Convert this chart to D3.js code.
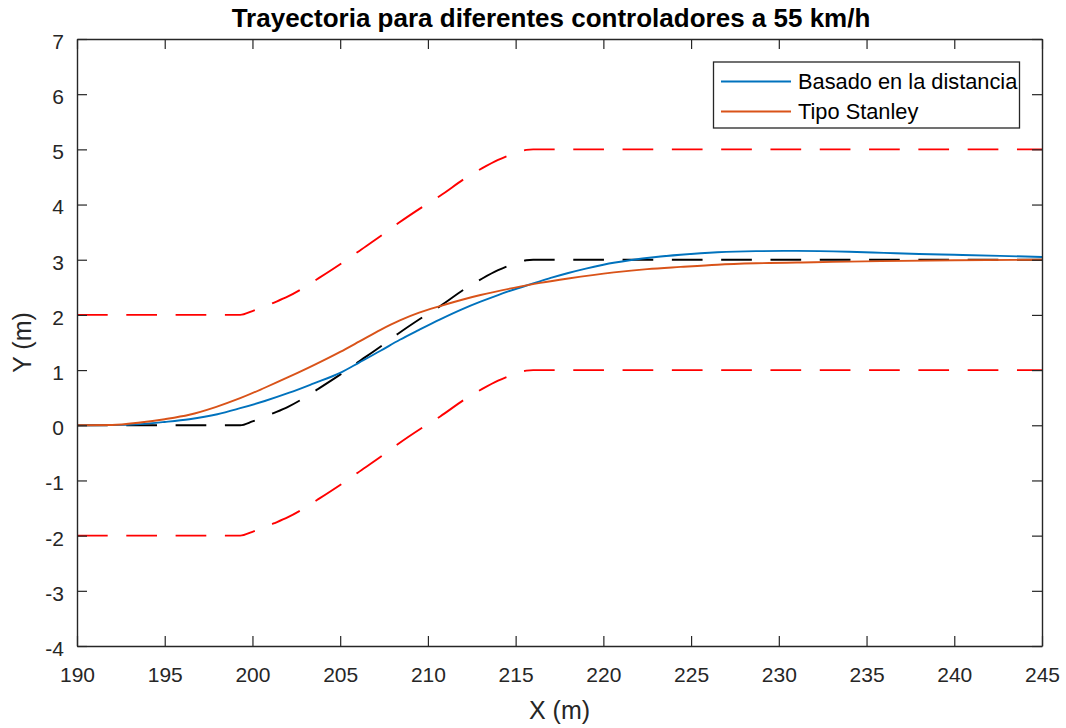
<!DOCTYPE html>
<html>
<head>
<meta charset="utf-8">
<script src="https://cdn.jsdelivr.net/npm/d3@7"></script>
<style>
  body { margin: 0; background: #fff; }
  svg { font-family: "Liberation Sans", Arial, Helvetica, sans-serif; }
</style>
</head>
<body>
<div id="chart"></div>
<script>
// reference path (black dashed) and lane limits (red dashed)
const refX = [190, 199.3, 200, 200.5, 201.2, 202, 202.7, 203.7, 205.1, 206, 207.4, 208.3, 209.7, 210.7, 212.1, 213.1, 214, 214.6, 215.1, 215.6, 216, 245];
const refY = [0, 0, 0.07, 0.13, 0.22, 0.33, 0.45, 0.65, 0.94, 1.14, 1.45, 1.66, 1.96, 2.16, 2.47, 2.66, 2.81, 2.89, 2.95, 2.99, 3, 3];
const upperY = [2, 2, 2.07, 2.13, 2.22, 2.33, 2.45, 2.65, 2.94, 3.14, 3.45, 3.66, 3.96, 4.16, 4.47, 4.66, 4.81, 4.89, 4.95, 4.99, 5, 5];
const lowerY = [-2, -2, -1.93, -1.87, -1.78, -1.67, -1.55, -1.35, -1.06, -0.86, -0.55, -0.34, -0.04, 0.16, 0.47, 0.66, 0.81, 0.89, 0.95, 0.99, 1, 1];

// controller "Basado en la distancia"
const distX = [190, 192, 193.6, 195, 196.4, 198, 199.3, 200.7, 202.1, 203.5, 205, 206.1, 207.3, 208.4, 209.5, 210.7, 212, 213, 214, 215, 216, 217, 218, 219, 220, 221.5, 223, 224.4, 226.5, 228.7, 231, 234, 236, 238, 240, 242.6, 245];
const distY = [0, 0.003, 0.02, 0.06, 0.11, 0.2, 0.31, 0.44, 0.59, 0.76, 0.95, 1.14, 1.35, 1.55, 1.73, 1.92, 2.11, 2.24, 2.36, 2.47, 2.57, 2.67, 2.76, 2.84, 2.91, 2.99, 3.05, 3.09, 3.135, 3.155, 3.16, 3.145, 3.125, 3.105, 3.09, 3.07, 3.05];

// controller "Tipo Stanley"
const stanX = [190, 192, 193.6, 195, 196.4, 197.9, 199.3, 200.7, 202.1, 203.5, 205, 206.1, 207.3, 208.4, 209.5, 210.7, 212, 213, 214.9, 216.4, 218, 220.6, 222.5, 224.4, 226.5, 228.7, 232, 235.8, 240, 245];
const stanY = [0, 0.005, 0.05, 0.11, 0.19, 0.33, 0.49, 0.68, 0.88, 1.09, 1.33, 1.52, 1.73, 1.9, 2.04, 2.16, 2.28, 2.36, 2.49, 2.58, 2.66, 2.77, 2.83, 2.87, 2.91, 2.935, 2.955, 2.975, 2.99, 3.0];

const xTicks = [190, 195, 200, 205, 210, 215, 220, 225, 230, 235, 240, 245];
const yTicks = [-4, -3, -2, -1, 0, 1, 2, 3, 4, 5, 6, 7];

const legendNames = ['Basado en la distancia', 'Tipo Stanley'];
const legendColors = ['#0072BD', '#D95319'];

const W = 1066, H = 728;
const mLeft = 77, mRight = 1042, mTop = 39, mBottom = 646;
const axisColor = '#262626';

const svg = d3.select('#chart').append('svg').attr('width', W).attr('height', H);

const x = d3.scaleLinear().domain([190, 245]).range([mLeft, mRight]);
const y = d3.scaleLinear().domain([-4, 7]).range([mBottom, mTop]);

const line = d3.line().x(d => x(d[0])).y(d => y(d[1])).curve(d3.curveMonotoneX);

/* Series
=========================================================================*/
const zip = (xs, ys) => xs.map((v, i) => [v, ys[i]]);
const g = svg.append('g');

const series = [
  { pts: zip(refX, upperY), color: '#FF0000', dash: '30.7,18.6' },
  { pts: zip(refX, lowerY), color: '#FF0000', dash: '30.7,18.6' },
  { pts: zip(refX, refY), color: '#000000', dash: '30.7,18.6' },
  { pts: zip(distX, distY), color: legendColors[0], dash: null },
  { pts: zip(stanX, stanY), color: legendColors[1], dash: null }
];

series.forEach(s => {
  g.append('path')
    .datum(s.pts)
    .attr('d', line)
    .attr('fill', 'none')
    .attr('stroke', s.color)
    .attr('stroke-width', 1.9)
    .attr('stroke-dasharray', s.dash);
});

/* Axes
=========================================================================*/
const fmt = d => String(d);

const styleAxis = sel => {
  sel.attr('font-family', null).attr('font-size', null);
  sel.selectAll('path').attr('stroke', axisColor).attr('stroke-width', 1.4);
  sel.selectAll('line').attr('stroke', axisColor).attr('stroke-width', 1.2);
  sel.selectAll('text').attr('fill', axisColor).style('font-size', '21px');
};

svg.append('g')
  .attr('transform', `translate(0,${mBottom})`)
  .call(d3.axisBottom(x).tickValues(xTicks).tickFormat(fmt).tickSizeInner(-10).tickSizeOuter(0).tickPadding(21))
  .call(styleAxis);

svg.append('g')
  .attr('transform', `translate(0,${mTop})`)
  .call(d3.axisTop(x).tickValues(xTicks).tickFormat('').tickSizeInner(-10).tickSizeOuter(0))
  .call(styleAxis);

svg.append('g')
  .attr('transform', `translate(${mLeft},0)`)
  .call(d3.axisLeft(y).tickValues(yTicks).tickFormat(fmt).tickSizeInner(-10).tickSizeOuter(0).tickPadding(13))
  .call(styleAxis)
  .call(a => a.selectAll('text').attr('dy', '0.45em'));

svg.append('g')
  .attr('transform', `translate(${mRight},0)`)
  .call(d3.axisRight(y).tickValues(yTicks).tickFormat('').tickSizeInner(-10).tickSizeOuter(0))
  .call(styleAxis);

/* Labels
=========================================================================*/
svg.append('text')
  .attr('x', 551)
  .attr('y', 27)
  .attr('text-anchor', 'middle')
  .attr('font-weight', 'bold')
  .style('font-size', '26px')
  .attr('fill', '#000')
  .text('Trayectoria para diferentes controladores a 55 km/h');

svg.append('text')
  .attr('x', (mLeft + mRight) / 2)
  .attr('y', 719)
  .attr('text-anchor', 'middle')
  .style('font-size', '25px')
  .attr('fill', axisColor)
  .text('X (m)');

svg.append('text')
  .attr('transform', `translate(31,${(mTop + mBottom) / 2}) rotate(-90)`)
  .attr('text-anchor', 'middle')
  .style('font-size', '25px')
  .attr('fill', axisColor)
  .text('Y (m)');

/* Legend
=========================================================================*/
const legend = svg.append('g');
legend.append('rect')
  .attr('x', 713.5).attr('y', 62)
  .attr('width', 306).attr('height', 66)
  .attr('fill', '#fff')
  .attr('stroke', axisColor)
  .attr('stroke-width', 1.3);

legendNames.forEach((name, i) => {
  const cy = 81.5 + i * 30;
  legend.append('line')
    .attr('x1', 721).attr('x2', 791)
    .attr('y1', cy).attr('y2', cy)
    .attr('stroke', legendColors[i])
    .attr('stroke-width', 1.9);
  legend.append('text')
    .attr('x', 798)
    .attr('y', cy + 7.5)
    .style('font-size', '21.8px')
    .attr('fill', '#000')
    .text(name);
});
</script>
</body>
</html>
